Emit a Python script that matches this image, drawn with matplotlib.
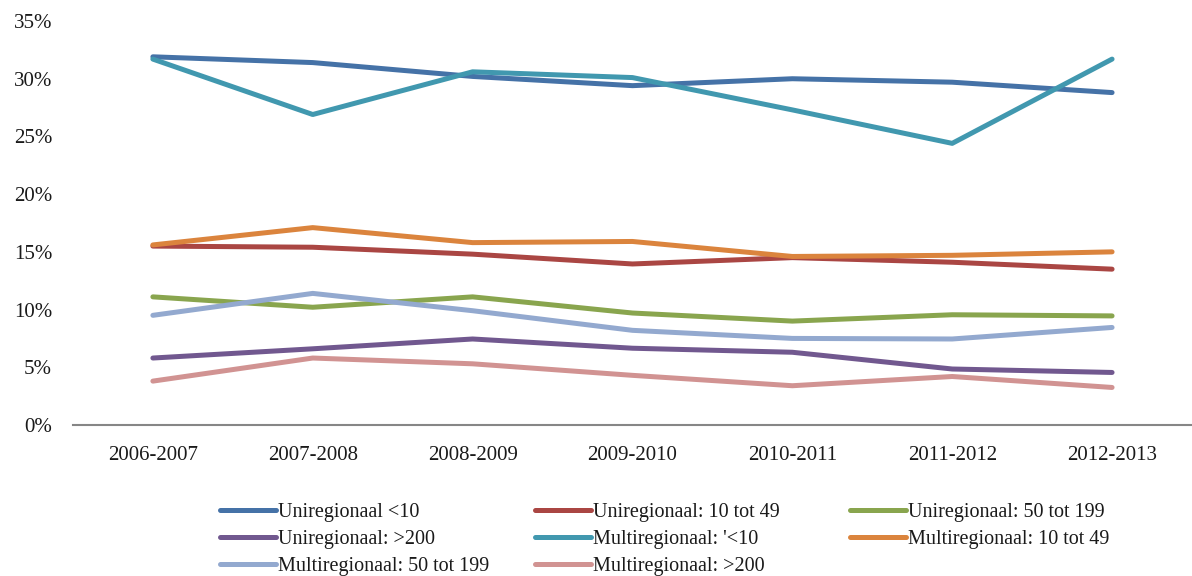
import matplotlib.pyplot as plt
from matplotlib.ticker import FuncFormatter

plt.rcParams['font.family'] = ['Liberation Serif', 'DejaVu Serif']

seasons = ['2006-2007', '2007-2008', '2008-2009', '2009-2010',
           '2010-2011', '2011-2012', '2012-2013']

# shares in percent
uni_lt10 = [31.9, 31.4, 30.2, 29.4, 30.0, 29.7, 28.8]
uni_10_49 = [15.5, 15.4, 14.8, 13.95, 14.5, 14.1, 13.5]
uni_50_199 = [11.1, 10.2, 11.1, 9.7, 9.0, 9.55, 9.45]
uni_gt200 = [5.8, 6.6, 7.45, 6.65, 6.3, 4.85, 4.55]
multi_lt10 = [31.7, 26.9, 30.6, 30.1, 27.3, 24.4, 31.7]
multi_10_49 = [15.6, 17.1, 15.8, 15.9, 14.6, 14.7, 15.0]
multi_50_199 = [9.5, 11.4, 9.9, 8.2, 7.5, 7.45, 8.45]
multi_gt200 = [3.8, 5.8, 5.3, 4.3, 3.4, 4.2, 3.25]

labels = ['Uniregionaal <10', 'Uniregionaal: 10 tot 49', 'Uniregionaal: 50 tot 199',
          'Uniregionaal: >200', "Multiregionaal: '<10", 'Multiregionaal: 10 tot 49',
          'Multiregionaal: 50 tot 199', 'Multiregionaal: >200']
series = [uni_lt10, uni_10_49, uni_50_199, uni_gt200,
          multi_lt10, multi_10_49, multi_50_199, multi_gt200]
colors = ['#4572A7', '#AA4643', '#89A54E', '#71588F',
          '#4198AF', '#DB843D', '#93A9CF', '#D19392']

fig = plt.figure(figsize=(11.92, 5.76), dpi=100)
ax = fig.add_axes([0.0612, 0.2622, 0.9388, 0.7013])

x = range(len(seasons))
lines = []
for vals, lab, col in zip(series, labels, colors):
    ln, = ax.plot(x, vals, color=col, lw=3.6, label=lab, solid_capstyle='round')
    lines.append(ln)

ax.set_xlim(-0.5, len(seasons) - 0.5)
ax.set_ylim(0, 35)
ax.set_yticks(range(0, 36, 5))
ax.yaxis.set_major_formatter(FuncFormatter(lambda v, p: f'{v:.0f}%'))
ax.set_xticks(list(x))
ax.set_xticklabels(seasons)
ax.tick_params(axis='both', length=0, labelsize=15, colors='#1a1a1a')
ax.tick_params(axis='y', pad=15)
ax.tick_params(axis='x', pad=15)

for side in ['top', 'right', 'left']:
    ax.spines[side].set_visible(False)
ax.spines['bottom'].set_color('#868686')
ax.spines['bottom'].set_linewidth(1.5)

# legend laid out row by row in three columns
columns = [[0, 3, 6], [1, 4, 7], [2, 5]]
col_x = [0.1846, 0.4488, 0.7131]
for idx, cx in zip(columns, col_x):
    leg = fig.legend([lines[i] for i in idx], [labels[i] for i in idx],
                     frameon=False, fontsize=14.5, loc='upper left',
                     bbox_to_anchor=(cx, 0.127), handlelength=2.8,
                     handletextpad=0.1, labelspacing=0.4,
                     borderpad=0, borderaxespad=0)
    for t in leg.get_texts():
        t.set_color('#1a1a1a')

fig.savefig('out.png', dpi=100)
